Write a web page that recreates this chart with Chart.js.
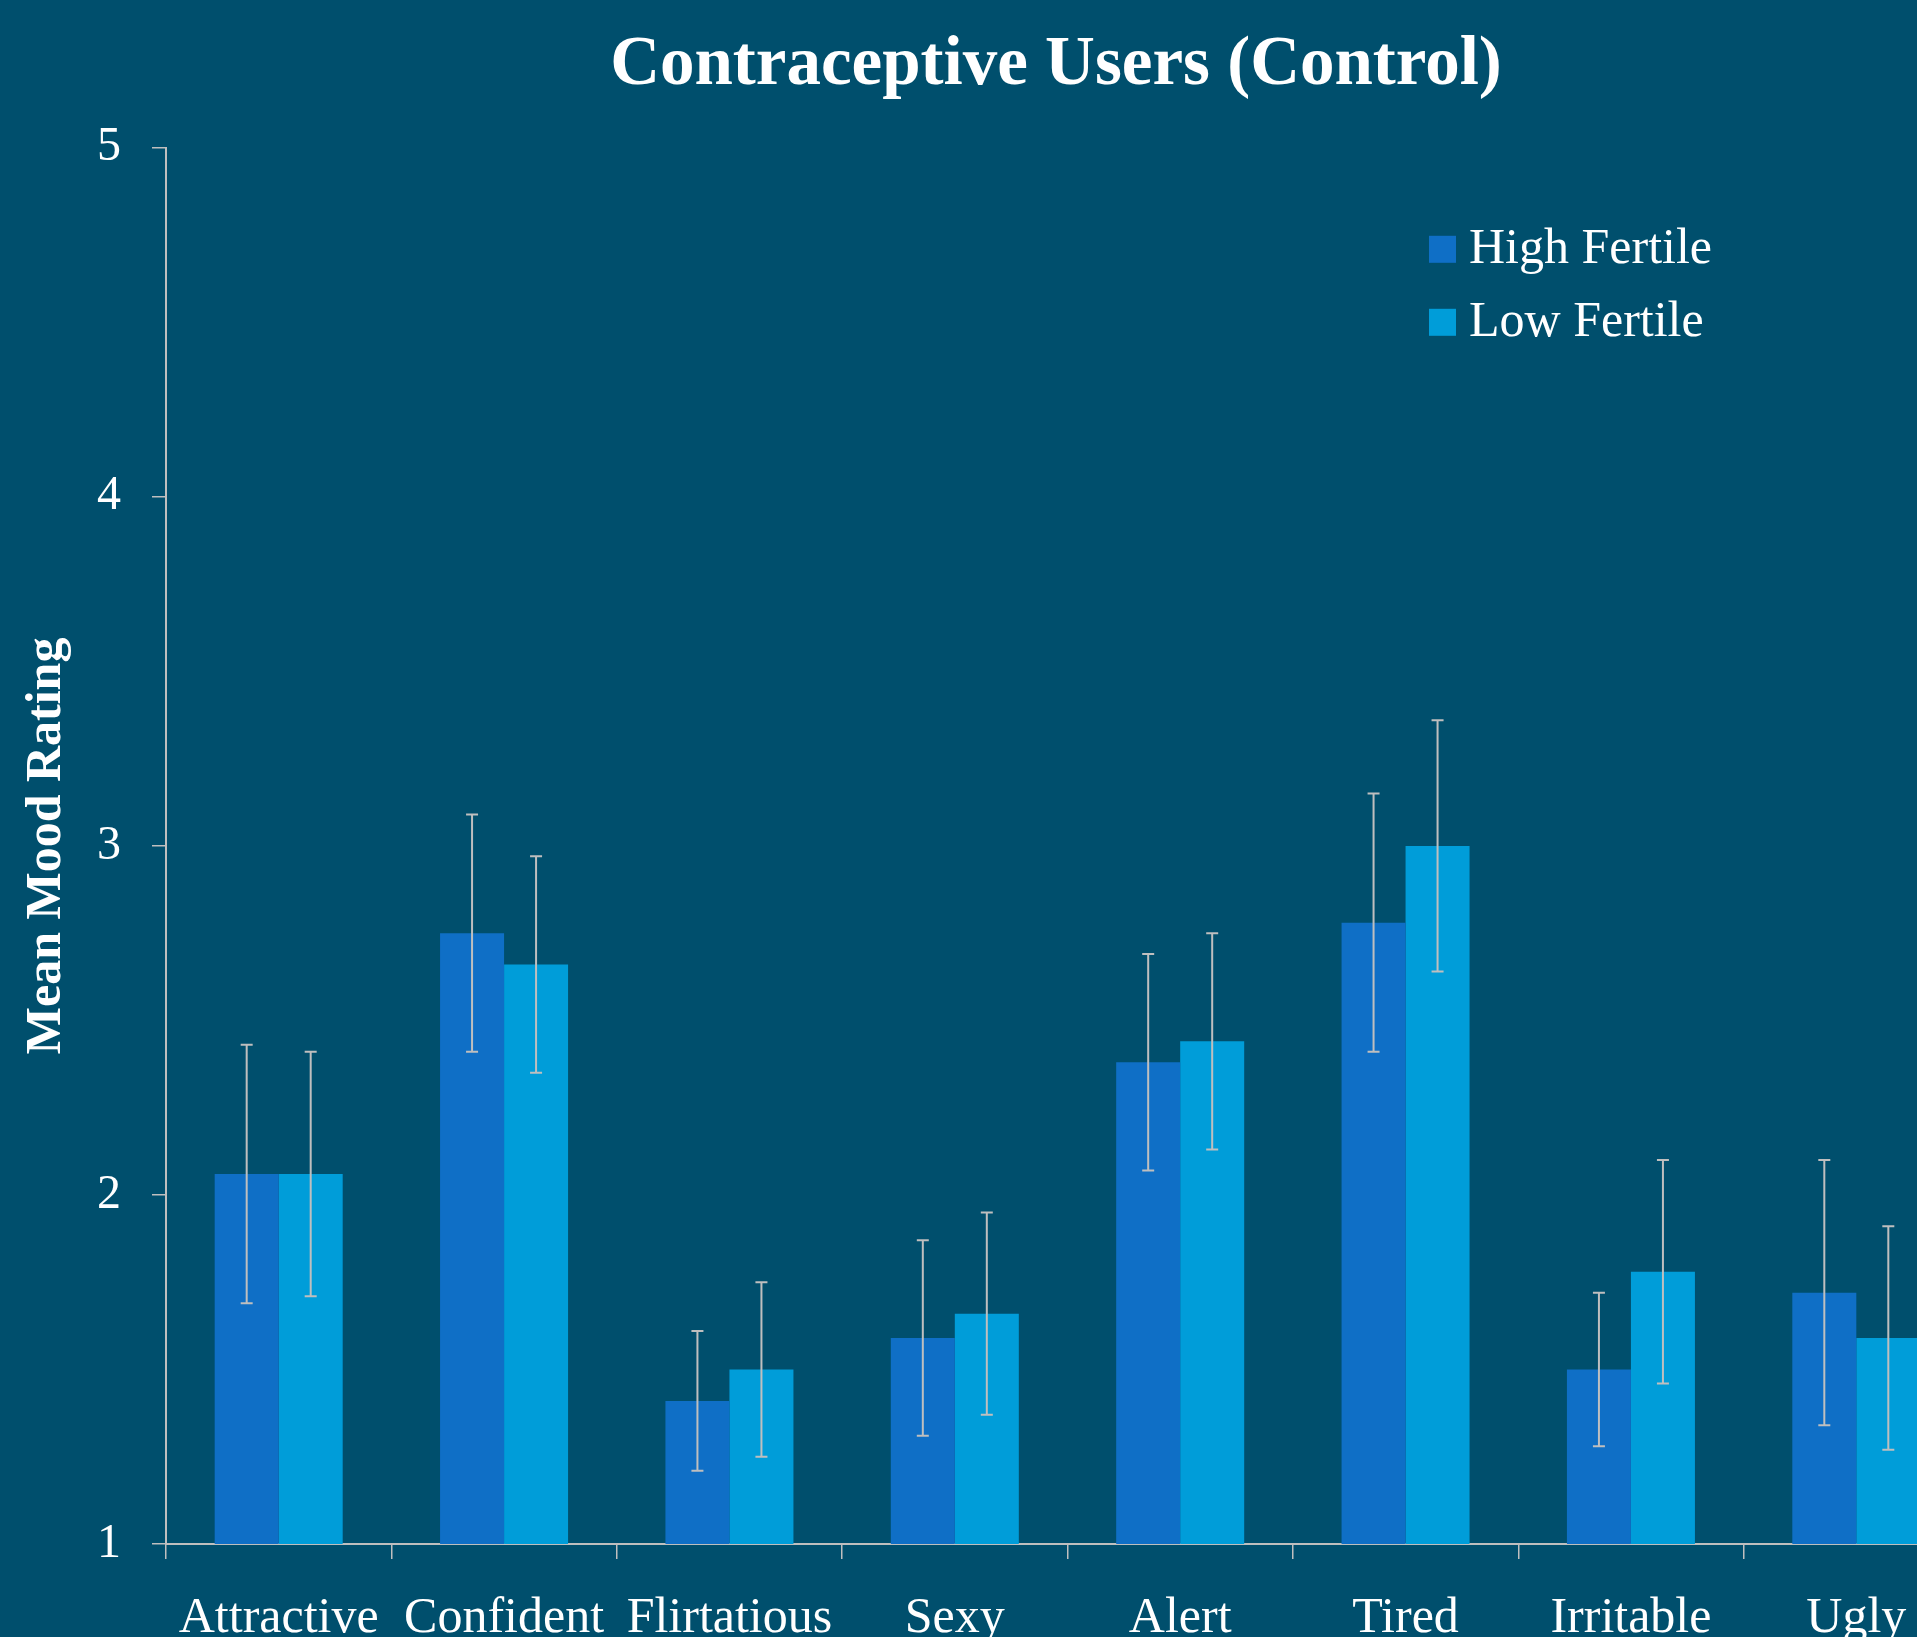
<!DOCTYPE html>
<html>
<head>
<meta charset="utf-8">
<script src="https://cdn.jsdelivr.net/npm/chart.js@4/dist/chart.umd.min.js"></script>
<style>
  html, body { margin: 0; padding: 0; overflow: hidden; background: #004F6D; }
  canvas { display: block; }
</style>
</head>
<body>
<canvas id="chart" width="2112" height="1673"></canvas>
<script>
// Mean mood ratings by fertility phase, with error bars
const categories = ['Attractive', 'Confident', 'Flirtatious', 'Sexy', 'Alert', 'Tired', 'Irritable', 'Ugly'];
const highFertile    = [2.06, 2.75, 1.41, 1.59, 2.38, 2.78, 1.50, 1.72];
const lowFertile     = [2.06, 2.66, 1.50, 1.66, 2.44, 3.00, 1.78, 1.59];
const highFertileErr = [0.37, 0.34, 0.20, 0.28, 0.31, 0.37, 0.22, 0.38];
const lowFertileErr  = [0.35, 0.31, 0.25, 0.29, 0.31, 0.36, 0.32, 0.32];
const yTicks = [1, 2, 3, 4, 5];

const FONT = "'Liberation Serif', 'Times New Roman', serif";
const AXIS_GREY = '#BFBFBF';

// Vertical error bars with caps, drawn through the y scale
const errorBars = {
  id: 'errorBars',
  afterDatasetsDraw(chart) {
    const { ctx } = chart;
    const yScale = chart.scales.y;
    ctx.save();
    ctx.strokeStyle = AXIS_GREY;
    ctx.lineWidth = 2;
    chart.data.datasets.forEach((ds, i) => {
      const meta = chart.getDatasetMeta(i);
      meta.data.forEach((bar, j) => {
        const v = ds.data[j], e = ds.errors[j];
        const yTop = yScale.getPixelForValue(v + e);
        const yBot = yScale.getPixelForValue(v - e);
        const x = bar.x, cap = 6;
        ctx.beginPath();
        ctx.moveTo(x, yTop); ctx.lineTo(x, yBot);
        ctx.moveTo(x - cap, yTop); ctx.lineTo(x + cap, yTop);
        ctx.moveTo(x - cap, yBot); ctx.lineTo(x + cap, yBot);
        ctx.stroke();
      });
    });
    ctx.restore();
  }
};

// Legend placed inside the plot area, top right
const insideLegend = {
  id: 'insideLegend',
  afterDraw(chart) {
    const { ctx, chartArea } = chart;
    const x0 = chartArea.left + 1263;
    const y0 = chartArea.top + 88;
    const box = 27;
    ctx.save();
    ctx.font = '50px ' + FONT;
    ctx.textBaseline = 'alphabetic';
    ctx.textAlign = 'left';
    chart.data.datasets.forEach((ds, i) => {
      const y = y0 + i * 73;
      ctx.fillStyle = ds.backgroundColor;
      ctx.fillRect(x0, y, box, box);
      ctx.fillStyle = '#FFFFFF';
      ctx.fillText(ds.label, x0 + 40, y + box);
    });
    ctx.restore();
  }
};

new Chart(document.getElementById('chart'), {
  type: 'bar',
  data: {
    labels: categories,
    datasets: [
      { label: 'High Fertile', data: highFertile, errors: highFertileErr, backgroundColor: '#0F6FC6' },
      { label: 'Low Fertile',  data: lowFertile,  errors: lowFertileErr,  backgroundColor: '#009DD9' }
    ]
  },
  options: {
    responsive: false,
    animation: false,
    devicePixelRatio: 1,
    layout: { padding: 0 },
    datasets: { bar: { categoryPercentage: 0.568, barPercentage: 1.0 } },
    plugins: {
      legend: { display: false },
      tooltip: { enabled: false },
      title: {
        display: true,
        text: 'Contraceptive Users (Control)',
        color: '#FFFFFF',
        font: { family: FONT, size: 69, weight: 'bold' },
        padding: { top: 25, bottom: 40 }
      }
    },
    scales: {
      x: {
        grid: { display: true, drawOnChartArea: false, drawTicks: true, tickLength: 15, color: AXIS_GREY, lineWidth: 1.5, offset: true },
        border: { display: true, color: AXIS_GREY, width: 2 },
        ticks: { color: '#FFFFFF', font: { family: FONT, size: 50 }, padding: 30, maxRotation: 0, autoSkip: false },
        afterFit(s) { s.height = 129; }
      },
      y: {
        position: 'left',
        min: yTicks[0],
        max: yTicks[yTicks.length - 1],
        afterBuildTicks(s) { s.ticks = yTicks.map(v => ({ value: v })); },
        ticks: { color: '#FFFFFF', font: { family: FONT, size: 48 }, padding: 31 },
        grid: { display: true, drawOnChartArea: false, drawTicks: true, tickLength: 14, color: AXIS_GREY, lineWidth: 1.5 },
        border: { display: true, color: AXIS_GREY, width: 2 },
        title: {
          display: true,
          text: 'Mean Mood Rating',
          color: '#FFFFFF',
          font: { family: FONT, size: 50, weight: 'bold' },
          padding: { top: 17, bottom: 0 }
        },
        afterFit(s) { s.width = 166; }
      },
      yRight: {
        type: 'linear',
        position: 'right',
        display: true,
        grid: { display: false },
        border: { display: false },
        ticks: { display: false },
        afterFit(s) { s.width = 143; }
      }
    }
  },
  plugins: [errorBars, insideLegend]
});
</script>
</body>
</html>
